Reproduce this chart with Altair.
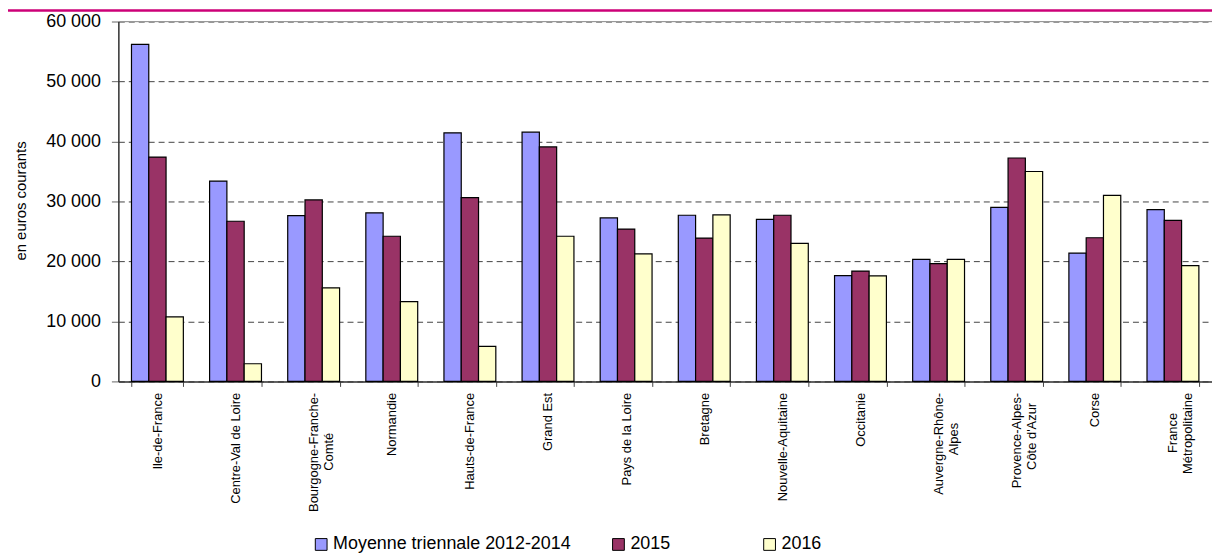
import altair as alt
import pandas as pd
import json

regions = [
    "Ile-de-France",
    "Centre-Val de Loire",
    "Bourgogne-Franche-Comté",
    "Normandie",
    "Hauts-de-France",
    "Grand Est",
    "Pays de la Loire",
    "Bretagne",
    "Nouvelle-Aquitaine",
    "Occitanie",
    "Auvergne-Rhône-Alpes",
    "Provence-Alpes-Côte d'Azur",
    "Corse",
    "France Métropolitaine",
]
# axis label lines (line breaks as in the original)
label_lines = [
    ["Ile-de-France"],
    ["Centre-Val de Loire"],
    ["Bourgogne-Franche-", "Comté"],
    ["Normandie"],
    ["Hauts-de-France"],
    ["Grand Est"],
    ["Pays de la Loire"],
    ["Bretagne"],
    ["Nouvelle-Aquitaine"],
    ["Occitanie"],
    ["Auvergne-Rhône-", "Alpes"],
    ["Provence-Alpes-", "Côte d'Azur"],
    ["Corse"],
    ["France", "Métropolitaine"],
]
series = ["Moyenne triennale 2012-2014", "2015", "2016"]
moyenne = [56200, 33400, 27650, 28100, 41450, 41550, 27250, 27700, 27000, 17650, 20350, 29000, 21400, 28650]
v2015 = [37400, 26700, 30250, 24200, 30650, 39100, 25400, 23900, 27700, 18400, 19650, 37250, 23950, 26850]
v2016 = [10750, 2950, 15600, 13300, 5850, 24200, 21250, 27750, 23000, 17600, 20350, 35000, 31000, 19300]
y_ticks = [0, 10000, 20000, 30000, 40000, 50000, 60000]
colors = ["#9999FF", "#993366", "#FFFFCC"]

rows = []
for s, vals in zip(series, [moyenne, v2015, v2016]):
    for r, v in zip(regions, vals):
        rows.append({"region": r, "serie": s, "value": v})
df = pd.DataFrame(rows)

FONT = "Liberation Sans"
BLANK = "\u2800"  # blank glyph (not trimmed as whitespace)
# trailing blanks centre the shorter line of a two-line label
pad_short = {"Comté": 4, "Alpes": 3, "Côte d'Azur": 1, "France": 2}
label_map = {}
for r, lines in zip(regions, label_lines):
    label_map[r] = [ln + BLANK * pad_short.get(ln, 0) for ln in lines]

label_expr = f"{json.dumps(label_map, ensure_ascii=False)}[datum.label]"

x_axis = alt.Axis(
    title=None,
    labelAngle=270,
    labelAlign="right",
    labelBaseline="middle",
    labelPadding=6,
    labelExpr=label_expr,
    labelFontSize=13,
    labelFont=FONT,
    labelColor="black",
    labelLineHeight=15,
    tickBand="extent",
    tickSize=5,
    tickColor="#444",
    domainColor="#333",
    domainWidth=1.5,
    grid=False,
    labelOverlap=False,
)

y_axis = alt.Axis(
    title="en euros courants",
    titleFont=FONT,
    titleFontSize=15,
    titleFontWeight="normal",
    titleColor="black",
    titleX=-98,
    titleY=180,
    titleAlign="center",
    titleBaseline="middle",
    values=y_ticks,
    labelExpr="replace(format(datum.value, ','), ',', ' ')",
    labelFontSize=18,
    labelFont=FONT,
    labelColor="black",
    labelPadding=11,
    tickSize=7,
    tickColor="#666",
    domainColor="#333",
    domainWidth=1.5,
    grid=True,
    gridColor="#444",
    gridDash=[6, 4],
    gridWidth=1,
)

bars = alt.Chart(df).mark_bar(stroke="black", strokeWidth=1.2).encode(
    x=alt.X("region:N", sort=regions, axis=x_axis,
            scale=alt.Scale(paddingInner=0.336, paddingOuter=0.168)),
    xOffset=alt.XOffset("serie:N", sort=series, scale=alt.Scale(paddingInner=0, paddingOuter=0)),
    y=alt.Y("value:Q", axis=y_axis, scale=alt.Scale(domain=[0, 60000], nice=False)),
    color=alt.Color(
        "serie:N",
        sort=series,
        scale=alt.Scale(domain=series, range=colors),
        legend=alt.Legend(
            title=None,
            orient="none",
            direction="horizontal",
            legendX=195,
            legendY=517,
            symbolType="square",
            symbolSize=140,
            symbolStrokeColor="black",
            symbolStrokeWidth=1,
            symbolOpacity=1,
            labelFont=FONT,
            labelFontSize=18,
            labelColor="black",
            labelOffset=3,
            columnPadding=38,
            labelLimit=400,
            labelExpr="datum.label == '2015' ? '2015" + BLANK * 4 + "' : datum.label",
        ),
    ),
)

top_df = pd.DataFrame({"v": [60000]})
top_rule = alt.Chart(top_df).mark_rule(color="#999999", strokeWidth=1.2).encode(y="v:Q")

magenta = alt.Chart(top_df).mark_rule(color="#CC0077", strokeWidth=2.5).encode(
    x=alt.value(-111), x2=alt.value(1101), y=alt.value(-11)
)

chart = alt.layer(bars, top_rule, magenta).properties(
    width=1100,
    height=362,
    padding={"left": 111, "top": 12, "right": 0, "bottom": 173},
    autosize=alt.AutoSizeParams(type="none"),
).configure_view(stroke=None).configure(font=FONT)

chart.save("out.html", embed_options={"renderer": "svg", "actions": False})
